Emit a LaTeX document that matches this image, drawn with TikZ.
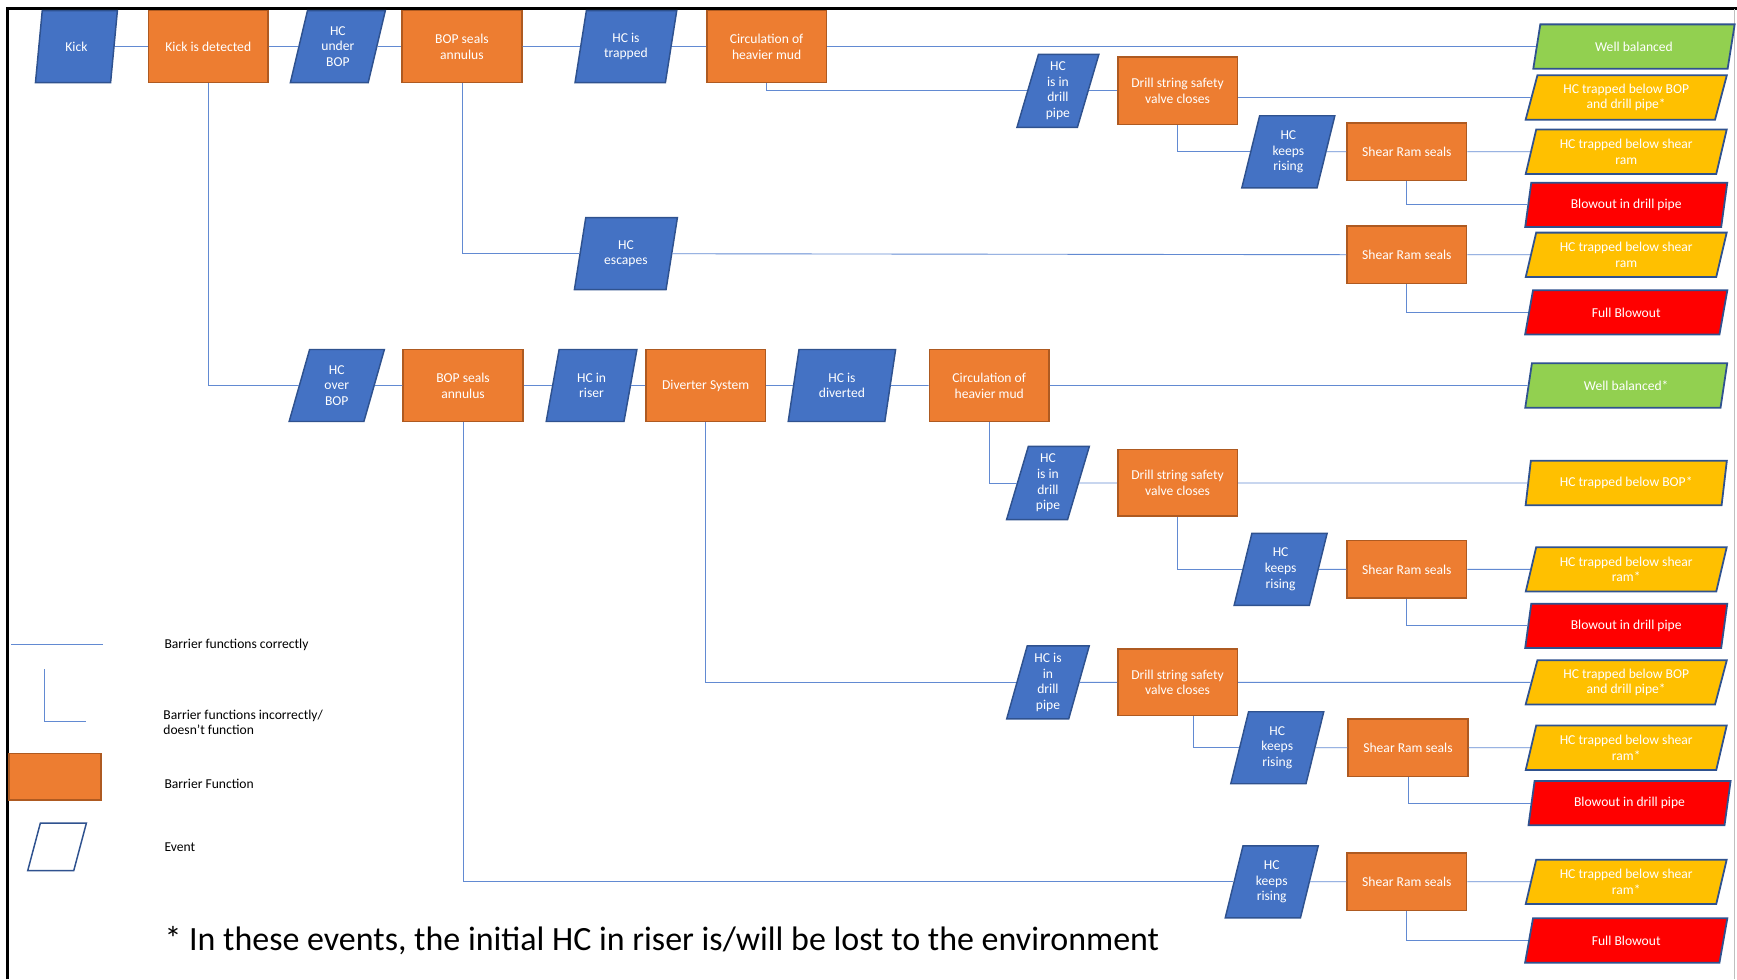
\documentclass[tikz,border=0pt]{standalone}
\usepackage{fontspec}
\setmainfont{Carlito}
\usetikzlibrary{shapes.geometric}

\definecolor{evblue}{RGB}{68,114,196}
\definecolor{evedge}{RGB}{47,82,143}
\definecolor{barorange}{RGB}{237,125,49}
\definecolor{baredge}{RGB}{174,90,33}
\definecolor{okgreen}{RGB}{146,208,80}
\definecolor{warnyellow}{RGB}{255,192,0}
\definecolor{badred}{RGB}{255,0,0}
\definecolor{linkblue}{RGB}{98,138,210}

\tikzset{every picture/.style={line width=0.75pt},
  boxfont/.style={font=\fontsize{9.2}{10.6}\selectfont},
  barrier/.style={boxfont, draw=baredge, fill=barorange, line width=1pt, text=white, align=center,
    minimum width=81pt, minimum height=48.75pt, inner sep=1pt},
  event/.style={boxfont, trapezium, trapezium left angle=77, trapezium right angle=103, trapezium stretches=true,
    draw=evedge, fill=evblue, line width=1pt, text=white, align=center,
    minimum width=64.5pt, minimum height=48.75pt, inner sep=0pt},
  outcome/.style={boxfont, trapezium, trapezium left angle=73, trapezium right angle=107, trapezium stretches=true,
    draw=evedge, line width=1.2pt, text=white, align=center,
    minimum width=137pt, minimum height=30pt, inner sep=0pt},
  link/.style={draw=linkblue, line width=0.6pt},
  legendtext/.style={boxfont, anchor=west, align=left, text=black, inner sep=0pt}
}

\begin{document}
\begin{tikzpicture}[x=0.75pt,y=0.75pt,yscale=-1,xscale=1]
	\useasboundingbox (0,0) rectangle (1568,884);

	%frame
	\draw [line width=2.2pt] (7,884) -- (7,8) -- (1568,8) ;
	\draw [line width=0.5pt, black!25] (1566,8) -- (1566,884) ;

	%Top row: HC under BOP
	\node [event, minimum width=55.5pt] (kick) at (69,42) {Kick};
	\node [barrier] (det) at (188,42) {Kick is detected};
	\node [event] (under) at (305,42) {HC\\under\\BOP};
	\node [barrier] (seal1) at (417,42) {BOP seals\\annulus};
	\node [event, minimum width=69pt] (trap) at (565,42) {HC is\\trapped};
	\node [barrier] (circ1) at (692,42) {Circulation of\\heavier mud};
	\node [outcome, fill=okgreen] (wb1) at (1475,42) {Well balanced};

	\node [event, minimum width=55.5pt, minimum height=49.5pt] (pipe1) at (955,82) {HC\\is in\\drill\\pipe};
	\node [barrier, minimum height=45.75pt] (dssv1) at (1063,82) {Drill string safety\\valve closes};
	\node [outcome, fill=warnyellow] (out2) at (1468,88) {HC trapped below BOP\\and drill pipe*};
	\node [event, minimum width=63pt] (rise1) at (1163,137) {HC\\keeps\\rising};
	\node [barrier, minimum height=39pt] (srs1) at (1270,137) {Shear Ram seals};
	\node [outcome, fill=warnyellow] (out3) at (1468,137) {HC trapped below shear\\ram};
	\node [outcome, fill=badred] (out4) at (1468,185) {Blowout in drill pipe};

	\node [event, minimum width=70pt] (esc) at (565,229) {HC\\escapes};
	\node [barrier, minimum height=39pt] (srs2) at (1270,230) {Shear Ram seals};
	\node [outcome, fill=warnyellow] (out5) at (1468,230) {HC trapped below shear\\ram};
	\node [outcome, fill=badred] (out6) at (1468,282) {Full Blowout};

	%Second row: HC over BOP
	\node [event] (over) at (304,348) {HC\\over\\BOP};
	\node [barrier] (seal2) at (418,348) {BOP seals\\annulus};
	\node [event, minimum width=61.5pt] (riser) at (534,348) {HC in\\riser};
	\node [barrier] (div) at (637,348) {Diverter System};
	\node [event, minimum width=72.75pt] (divd) at (760,348) {HC is\\diverted};
	\node [barrier] (circ2) at (893,348) {Circulation of\\heavier mud};
	\node [outcome, fill=okgreen] (wb2) at (1468,348) {Well balanced*};

	\node [event, minimum width=56pt, minimum height=49.5pt] (pipe2) at (946,436) {HC\\is in\\drill\\pipe};
	\node [barrier, minimum height=45pt] (dssv2) at (1063,436) {Drill string safety\\valve closes};
	\node [outcome, fill=warnyellow] (out8) at (1468,436) {HC trapped below BOP*};
	\node [event, minimum width=63pt] (rise2) at (1156,514) {HC\\keeps\\rising};
	\node [barrier, minimum height=39pt] (srs3) at (1270,514) {Shear Ram seals};
	\node [outcome, fill=warnyellow] (out9) at (1468,514) {HC trapped below shear\\ram*};
	\node [outcome, fill=badred] (out10) at (1468,565) {Blowout in drill pipe};

	\node [event, minimum width=56pt, minimum height=49.5pt] (pipe3) at (946,616) {HC is\\in\\drill\\pipe};
	\node [barrier, minimum height=45pt] (dssv3) at (1063,616) {Drill string safety\\valve closes};
	\node [outcome, fill=warnyellow] (out11) at (1468,616) {HC trapped below BOP\\and drill pipe*};
	\node [event, minimum width=63pt] (rise3) at (1153,675) {HC\\keeps\\rising};
	\node [barrier, minimum height=39pt] (srs4) at (1271,675) {Shear Ram seals};
	\node [outcome, fill=warnyellow] (out12) at (1468,675) {HC trapped below shear\\ram*};
	\node [outcome, fill=badred] (out13) at (1471,725) {Blowout in drill pipe};

	\node [event, minimum width=63pt] (rise4) at (1148,796) {HC\\keeps\\rising};
	\node [barrier, minimum height=39pt] (srs5) at (1270,796) {Shear Ram seals};
	\node [outcome, fill=warnyellow] (out14) at (1468,796) {HC trapped below shear\\ram*};
	\node [outcome, fill=badred] (out15) at (1468,849) {Full Blowout};

	%barrier works
	\draw [link] (kick) -- (det) ;
	\draw [link] (det) -- (under) ;
	\draw [link] (under) -- (seal1) ;
	\draw [link] (seal1) -- (trap) ;
	\draw [link] (trap) -- (circ1) ;
	\draw [link] (circ1) -- (wb1) ;
	\draw [link] (pipe1) -- (dssv1) ;
	\draw [link] (out2.west -| dssv1.east) -- (out2.west) ;
	\draw [link] (rise1) -- (srs1) ;
	\draw [link] (srs1) -- (out3) ;
	\draw [link] (esc) -- (srs2) ;
	\draw [link] (srs2) -- (out5) ;
	\draw [link] (over) -- (seal2) ;
	\draw [link] (seal2) -- (riser) ;
	\draw [link] (riser) -- (div) ;
	\draw [link] (div) -- (divd) ;
	\draw [link] (divd) -- (circ2) ;
	\draw [link] (circ2) -- (wb2) ;
	\draw [link] (pipe2) -- (dssv2) ;
	\draw [link] (dssv2) -- (out8) ;
	\draw [link] (rise2) -- (srs3) ;
	\draw [link] (srs3) -- (out9) ;
	\draw [link] (pipe3) -- (dssv3) ;
	\draw [link] (dssv3) -- (out11) ;
	\draw [link] (rise3) -- (srs4) ;
	\draw [link] (srs4) -- (out12) ;
	\draw [link] (rise4) -- (srs5) ;
	\draw [link] (srs5) -- (out14) ;

	%barrier fails
	\draw [link] (circ1.south) |- (pipe1.west) ;
	\draw [link] (dssv1.south) |- (rise1.west) ;
	\draw [link] (srs1.south) |- (out4.west) ;
	\draw [link] (seal1.south) |- (esc.west) ;
	\draw [link] (srs2.south) |- (out6.west) ;
	\draw [link] (det.south) |- (over.west) ;
	\draw [link] (circ2.south) |- (pipe2.west) ;
	\draw [link] (dssv2.south) |- (rise2.west) ;
	\draw [link] (srs3.south) |- (out10.west) ;
	\draw [link] (div.south) |- (pipe3.west) ;
	\draw [link] ([xshift=10.5pt]dssv3.south) |- (rise3.west) ;
	\draw [link] (srs4.south) |- (out13.west) ;
	\draw [link] (seal2.south) |- (rise4.west) ;
	\draw [link] (srs5.south) |- (out15.west) ;

	%legend
	\coordinate (lgA) at (10,582);
	\coordinate (lgB) at (93,582);
	\draw [link] (lgA) -- (lgB) ;
	\node [legendtext] (lgOk) at (148,582) {Barrier functions correctly};
	\coordinate (lgC) at (40,604);
	\coordinate (lgD) at (78,651);
	\draw [link] (lgC) |- (lgD) ;
	\node [legendtext] (lgBad) at (147,652) {Barrier functions incorrectly/\\doesn’t function};
	\node [barrier, minimum width=62.25pt, minimum height=31.5pt] (lgBar) at (49.5,701) {};
	\node [legendtext] (lgBarT) at (148,708) {Barrier Function};
	\node [event, fill=white, trapezium left angle=71, trapezium right angle=109,
	       minimum width=39.75pt, minimum height=32.25pt] (lgEv) at (51.5,764.5) {\phantom{x}};
	\node [legendtext] (lgEvT) at (148,765) {Event};

	% Text Node
	\node [anchor=west, inner sep=0pt, font=\fontsize{23}{27}\selectfont] (note) at (148,849) {* In these events, the initial HC in riser is/will be lost to the environment};

\end{tikzpicture}
\end{document}
